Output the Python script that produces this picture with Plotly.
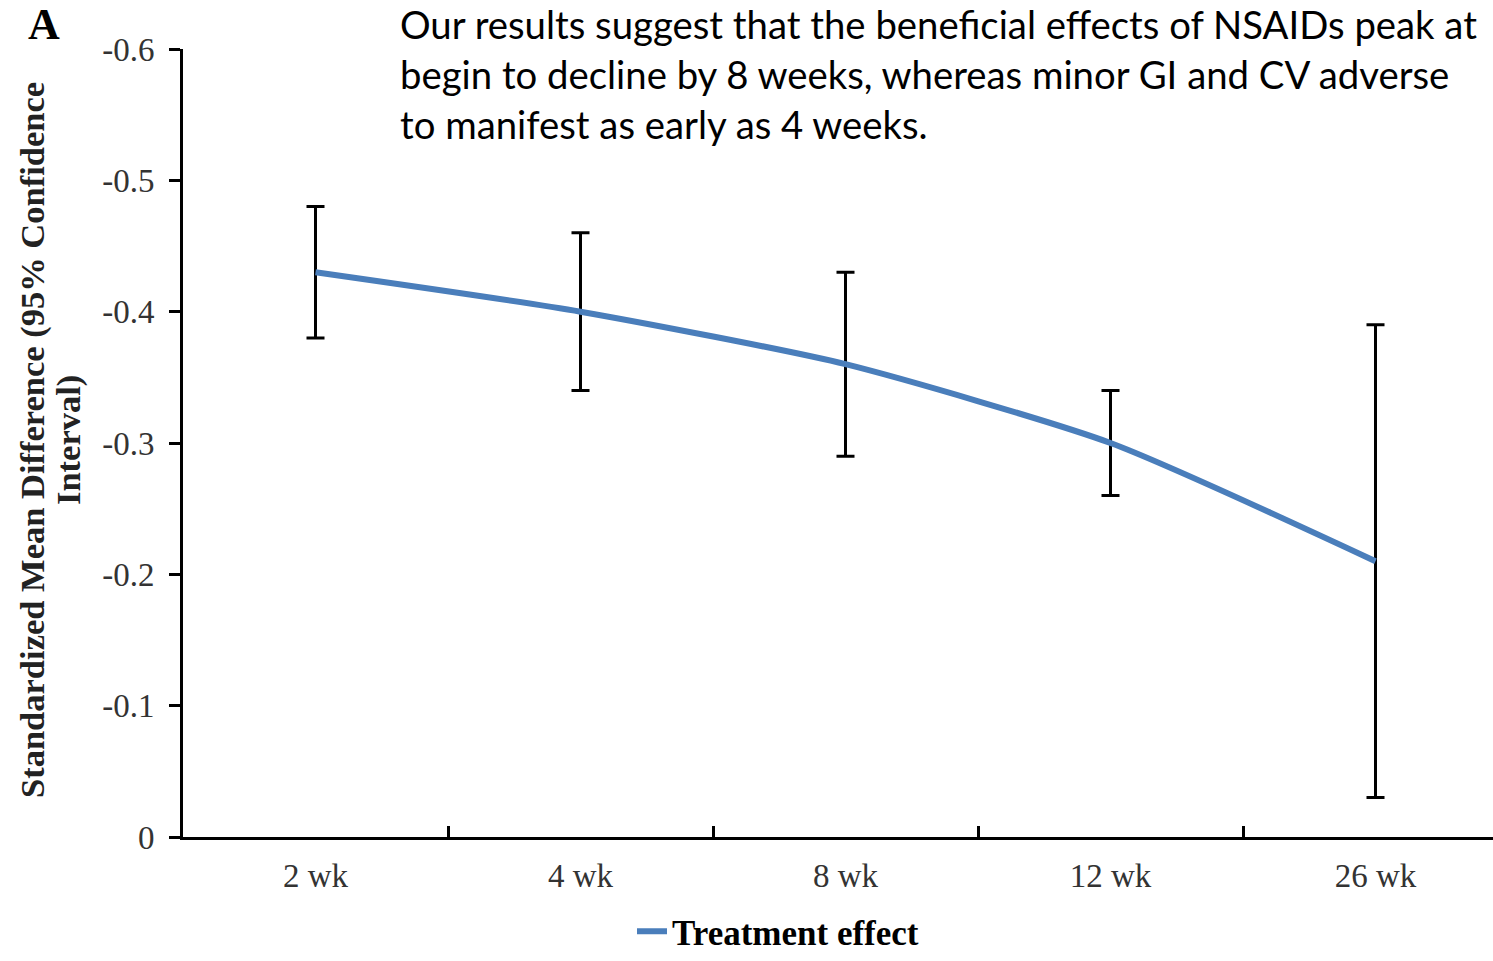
import plotly.graph_objects as go

categories = ["2 wk", "4 wk", "8 wk", "12 wk", "26 wk"]
smd = [-0.43, -0.40, -0.36, -0.30, -0.21]
ci_upper = [-0.48, -0.46, -0.43, -0.34, -0.39]   # more negative bound
ci_lower = [-0.38, -0.34, -0.29, -0.26, -0.03]
ytick_vals = [0, -0.1, -0.2, -0.3, -0.4, -0.5, -0.6]
ytick_text = ["0", "-0.1", "-0.2", "-0.3", "-0.4", "-0.5", "-0.6"]
series_name = "Treatment effect"
overlay_lines = [
    "Our results suggest that the beneficial effects of NSAIDs peak at",
    "begin to decline by 8 weeks, whereas minor GI and CV adverse",
    "to manifest as early as 4 weeks.",
]
ytitle_lines = ["Standardized Mean Difference (95% Confidence", "Interval)"]

W, H = 1493, 961
L, R, T, B = 183, 0, 49, 124
pw, ph = W - L - R, H - T - B

def px_x(p):
    return (p - L) / pw

def px_y(p):
    return (H - B - p) / ph

serif = "Liberation Serif, Times New Roman, serif"

fig = go.Figure()
fig.add_trace(go.Scatter(
    x=categories, y=smd, mode="lines", name=series_name,
    line=dict(color="#4a7ebb", width=6, shape="spline", smoothing=0.6),
    error_y=dict(
        type="data", symmetric=False,
        array=[lo - m for lo, m in zip(ci_lower, smd)],
        arrayminus=[m - up for up, m in zip(ci_upper, smd)],
        color="black", thickness=3, width=9,
    ),
))

fig.update_layout(
    width=W, height=H,
    margin=dict(l=L, r=R, t=T, b=B, pad=0),
    paper_bgcolor="white", plot_bgcolor="white",
    showlegend=True,
    legend=dict(orientation="h", x=px_x(632), y=0, xref="paper", yref="container",
                xanchor="left", yanchor="bottom",
                font=dict(family=serif, size=35, color="black", weight="bold"),
                bgcolor="rgba(0,0,0,0)", borderwidth=0),
    xaxis=dict(
        type="category", range=[-0.5, -0.5 + pw / 265.0],
        showline=True, linecolor="black", linewidth=3,
        ticks="inside", tickson="boundaries", ticklen=11, tickwidth=3, tickcolor="black",
        tickfont=dict(family=serif, size=33, color="#333333"),
        ticklabelstandoff=7,
        showgrid=False, zeroline=False,
    ),
    yaxis=dict(
        range=[0, -0.6],
        tickvals=ytick_vals, ticktext=ytick_text,
        showline=True, linecolor="black", linewidth=3,
        ticks="outside", ticklen=11, tickwidth=3, tickcolor="black",
        tickfont=dict(family=serif, size=33, color="#333333"),
        ticklabelstandoff=8,
        showgrid=False, zeroline=False,
    ),
)

annotations = []
annotations.append(dict(
    text="<br>".join(overlay_lines), xref="paper", yref="paper",
    x=px_x(399), y=px_y(0), xanchor="left", yanchor="top", align="left",
    borderpad=0, showarrow=False,
    font=dict(family="Lato, Noto Sans, sans-serif", size=38.3, color="black"),
))
annotations.append(dict(
    text="A", xref="paper", yref="paper", x=px_x(44), y=px_y(25),
    xanchor="center", yanchor="middle", showarrow=False,
    font=dict(family=serif, size=44, color="black", weight="bold"),
))
for cx, line in zip([32, 68], ytitle_lines):
    annotations.append(dict(
        text=line, xref="paper", yref="paper", x=px_x(cx), y=px_y(440),
        xanchor="center", yanchor="middle", textangle=-90, showarrow=False,
        font=dict(family=serif, size=34.5, color="#222222", weight="bold"),
    ))
fig.update_layout(annotations=annotations)

fig.write_html("out.html")
